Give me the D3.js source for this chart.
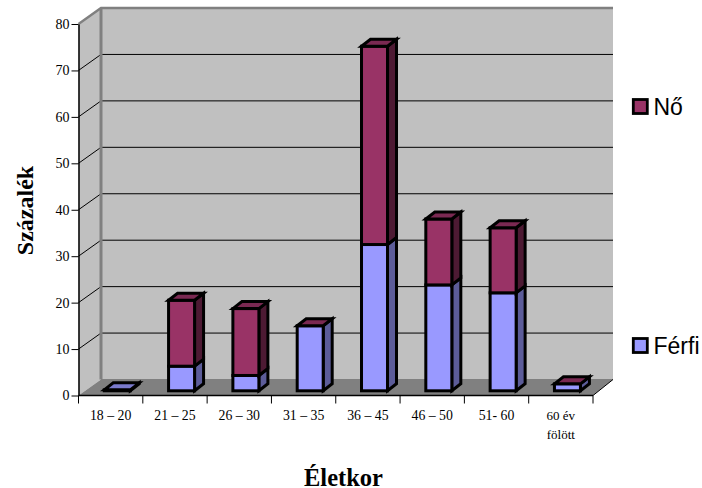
<!DOCTYPE html>
<html><head><meta charset="utf-8">
<script src="https://cdn.jsdelivr.net/npm/d3@7"></script>
<style>html,body{margin:0;padding:0;background:#fff}svg{display:block}</style>
</head><body><svg id="c" width="702" height="488"></svg>
<script>
const categories = ["18 – 20","21 – 25","26 – 30","31 – 35","36 – 45","46 – 50","51- 60","60 év|fölött"];
const ferfi = [0.2,5.3,3.3,14,31.5,22.8,21.1,1.5];
const no = [0,14.2,14.4,0,42.7,14.2,14,0];
const yTicks = [0,10,20,30,40,50,60,70,80];
const seriesNames = ["Férfi","Nő"];

const svg = d3.select("#c");
const L=78.5,R=593,Y0=395.5,Y80=24,DX=22.5,DY=-16;
const x = d3.scaleBand().domain(categories).range([L,R]);
const y = d3.scaleLinear().domain([0,80]).range([Y0,Y80]);
const pts = a=>a.map(p=>p.join(",")).join(" ");

// walls
svg.append("polygon").attr("points",pts([[L,Y80],[L+DX,Y80+DY],[L+DX,Y0+DY],[L,Y0]])).attr("fill","#c0c0c0");
svg.append("rect").attr("x",L+DX).attr("y",Y80+DY).attr("width",R+20-L-DX).attr("height",Y0-Y80).attr("fill","#c0c0c0");
svg.append("polygon").attr("points",pts([[L,Y0],[L+DX,Y0+DY],[R+20,Y0+DY],[R,Y0]])).attr("fill","#808080");

// grid
const grid = svg.append("g").attr("stroke","#000").attr("stroke-width",1).attr("fill","none");
yTicks.filter(t=>t>0&&t<80).forEach(t=>{
  grid.append("polyline").attr("points",pts([[L,y(t)],[L+DX,y(t)+DY],[R+20,y(t)+DY]]));
});
// wall frame
svg.append("polyline").attr("points",pts([[L,Y80],[L+DX,Y80+DY],[R+20,Y80+DY]])).attr("fill","none").attr("stroke","#808080").attr("stroke-width",2.4);
svg.append("line").attr("x1",L+DX).attr("x2",L+DX).attr("y1",Y80+DY).attr("y2",Y0+DY).attr("stroke","#808080").attr("stroke-width",3);
svg.append("line").attr("x1",L+DX).attr("x2",R+20).attr("y1",Y0+DY).attr("y2",Y0+DY).attr("stroke","#808080");
svg.append("line").attr("x1",R).attr("x2",R+20).attr("y1",Y0).attr("y2",Y0+DY).attr("stroke","#000");

// bars
const bw=26, bdx=9, bdy=-7, bOffX=6.6, bOffY=-4.7;
const colors = {
  "Férfi":{f:"#9999ff",s:"#5c5c99",t:"#7a7acc"},
  "Nő":{f:"#993366",s:"#4d1a33",t:"#7a2952"}
};
const bars = svg.append("g").attr("stroke","#000").attr("stroke-width",3).attr("stroke-linejoin","miter");
categories.forEach((c,i)=>{
  const x0 = x(c)+x.bandwidth()/2-bw/2+bOffX, x1=x0+bw;
  const sy = v=>y(v)+bOffY;
  const segs=[["Férfi",0,ferfi[i]],["Nő",ferfi[i],ferfi[i]+no[i]]];
  segs.forEach(([n,a,b])=>{
    if(b<=a) return;
    const k=colors[n];
    bars.append("polygon").attr("fill",k.s).attr("points",pts([[x1,sy(a)],[x1+bdx,sy(a)+bdy],[x1+bdx,sy(b)+bdy],[x1,sy(b)]]));
    bars.append("rect").attr("fill",k.f).attr("x",x0).attr("y",sy(b)).attr("width",bw).attr("height",sy(a)-sy(b));
  });
  const tot=ferfi[i]+no[i];
  const topFill = i===0 ? colors["Férfi"].t : colors["Nő"].t;
  bars.append("polygon").attr("fill",topFill).attr("points",pts([[x0,sy(tot)],[x0+bdx,sy(tot)+bdy],[x1+bdx,sy(tot)+bdy],[x1,sy(tot)]]));
});

// axes
const ya = svg.append("g").attr("transform",`translate(${L},0)`)
  .call(d3.axisLeft(y).tickValues(yTicks).tickSize(7).tickPadding(2).tickSizeOuter(0));
ya.selectAll("text").attr("font-family","'Liberation Serif'").attr("font-size",14).attr("fill","#000");
ya.selectAll("path,line").attr("stroke","#000");
ya.select("path").attr("stroke-width",1.5);

const xa = svg.append("g").attr("transform",`translate(0,${Y0})`);
xa.append("line").attr("x1",L).attr("x2",R).attr("stroke","#000").attr("stroke-width",1.5);
categories.forEach((c,i)=>{
  xa.append("line").attr("x1",x(c)).attr("x2",x(c)).attr("y2",8).attr("stroke","#000");
  if(i===categories.length-1) xa.append("line").attr("x1",R).attr("x2",R).attr("y2",8).attr("stroke","#000");
  const t=xa.append("text").attr("text-anchor","middle")
    .attr("font-family","'Liberation Serif'").attr("font-size",13.5).attr("fill","#000");
  c.split("|").forEach((s,j)=>t.append("tspan").attr("x",x(c)+x.bandwidth()/2).attr("y",j?43.5:24.5).attr("font-size",c.includes("|")?13:13.8).text(s));
});

// titles
svg.append("text").attr("transform","translate(33,210.5) rotate(-90)").attr("text-anchor","middle")
  .attr("font-family","'Liberation Serif'").attr("font-weight","bold").attr("font-size",24).text("Százalék");
svg.append("text").attr("x",343.5).attr("y",486).attr("text-anchor","middle")
  .attr("font-family","'Liberation Serif'").attr("font-weight","bold").attr("font-size",24.5).text("Életkor");

// legend
const legendY = {"Nő":106.5,"Férfi":345.5};
seriesNames.forEach(n=>{
  svg.append("rect").attr("x",633.3).attr("y",legendY[n]-7).attr("width",14).attr("height",14)
    .attr("fill",colors[n].f).attr("stroke","#000").attr("stroke-width",2.8);
  svg.append("text").attr("x",653.5).attr("y",legendY[n]+8).attr("font-family","'Liberation Sans'")
    .attr("font-size",23).attr("fill","#000").text(n);
});
</script></body></html>
